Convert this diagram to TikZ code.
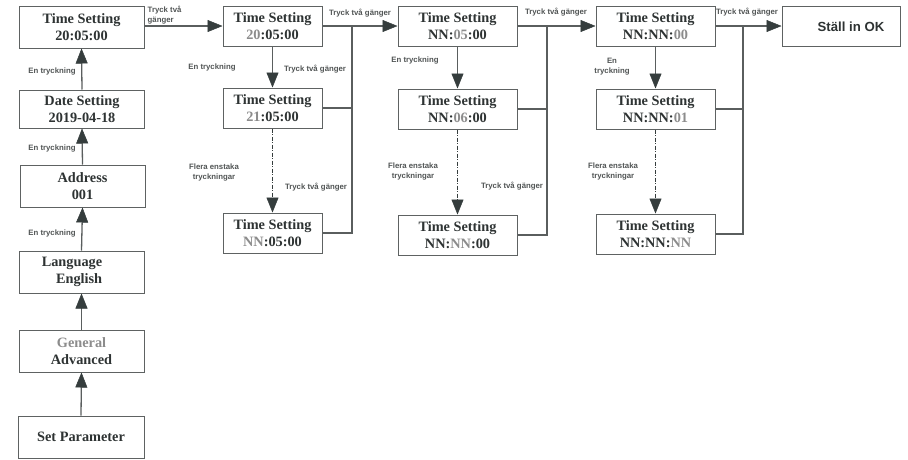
\documentclass[tikz,border=0pt]{standalone}
\usepackage{fontspec}
\setmainfont{Liberation Serif}
\setsansfont{Liberation Sans}
\usetikzlibrary{arrows.meta}
\definecolor{boxline}{HTML}{5E6262}
\definecolor{txt}{HTML}{2E3333}
\definecolor{hl}{HTML}{8C8C8C}
\definecolor{wire}{HTML}{5A5E5E}
\definecolor{tip}{HTML}{353D3D}
\definecolor{lbl}{HTML}{505454}
\newcommand{\hi}[1]{\textcolor{hl}{#1}}
\tikzset{
  headtip/.tip={Triangle[length=15pt,width=12pt,fill=tip,color=tip,line width=0.5pt]}
}
\begin{document}
\begin{tikzpicture}[x=1pt,y=-1pt,
  box/.style={draw=boxline, line width=1pt, fill=white, inner sep=0pt,
    minimum width=125pt, minimum height=40pt, align=center, text=txt,
    font=\fontsize{14.3}{17}\selectfont\bfseries},
  tbox/.style={box, minimum width=119pt},
  boxtext/.style={align=right, text=txt, inner sep=0pt,
    font=\fontsize{14.3}{17}\selectfont\bfseries},
  lab/.style={text=lbl, align=center, inner sep=0pt,
    font=\fontsize{7.8}{10}\selectfont\sffamily\bfseries},
  wire/.style={draw=wire, line width=1.3pt},
  arr/.style={wire, -headtip},
  dd/.style={arr, draw=tip, line width=1.1pt, dash pattern=on 4pt off 1.5pt on 1pt off 1.5pt}]
\useasboundingbox (0,0) rectangle (908,459);

% left column: menu path to the time setting
\node[box, minimum height=42pt] (ts) at (81.5,27) {Time Setting\\20:05:00};
\node[box, minimum height=38pt] (ds) at (82,109) {Date Setting\\2019-04-18};
\node[box, minimum height=42pt] (ad) at (82.5,186) {Address\\001};
\node[box, minimum height=42pt] (la) at (81.5,272) {};
\node[boxtext] (lat) at (72,272) {Language\\English};
\node[box, minimum height=42pt] (ge) at (81.5,351) {\hi{General}\\Advanced};
\node[box, minimum width=126pt, minimum height=42pt] (sp) at (81,437) {Set Parameter};

\draw[arr] (sp.north) -- (ge.south);
\draw[arr] (ge.north) -- (la.south);
\draw[arr] (la.north) -- (ad.south);
\draw[arr] (ad.north) -- (ds.south);
\draw[arr] (ds.north) -- (ts.south);
\node[lab] (l1) at (52,71) {En tryckning};
\node[lab] (l2) at (52,148) {En tryckning};
\node[lab] (l3) at (52,233) {En tryckning};

% hours column
\node[tbox, minimum width=99pt] (h1) at (272.5,26.5) {Time Setting\\\hi{20}:05:00};
\node[tbox, minimum width=99pt] (h2) at (272.5,108) {Time Setting\\\hi{21}:05:00};
\node[tbox, minimum width=99pt] (h3) at (272.5,233) {Time Setting\\\hi{NN}:05:00};

% minutes column
\node[tbox] (m1) at (457.5,26.5) {Time Setting\\NN:\hi{05}:00};
\node[tbox] (m2) at (457.5,109) {Time Setting\\NN:\hi{06}:00};
\node[tbox] (m3) at (457.5,235) {Time Setting\\NN:\hi{NN}:00};

% seconds column
\node[tbox] (s1) at (655.5,26.5) {Time Setting\\NN:NN:\hi{00}};
\node[tbox] (s2) at (655.5,109) {Time Setting\\NN:NN:\hi{01}};
\node[tbox] (s3) at (655.5,234) {Time Setting\\NN:NN:\hi{NN}};

% final state
\node[box, minimum width=118pt, minimum height=40pt,
  font=\fontsize{13.2}{16}\selectfont\sffamily\bfseries] (ok) at (841,26.5)
  {\hspace*{20pt}Ställ in OK};

% junction points of the double-press lines
\coordinate (jh) at (352,26);
\coordinate (jm) at (547,26);
\coordinate (js) at (743,26);

% double press: advance to the next field
\draw[arr] (ts.east |- 0,26) -- (h1.west |- 0,26);
\draw[arr] (h1.east |- 0,26) -- (m1.west |- 0,26);
\draw[arr] (m1.east |- 0,26) -- (s1.west |- 0,26);
\draw[arr] (s1.east |- 0,26) -- (ok.west |- 0,26);
\draw[wire, line width=1.2pt] (h3.east) -| (jh) (h2.east) -- (h2.east -| jh);
\draw[wire, line width=1.2pt] (m3.east) -| (jm) (m2.east) -- (m2.east -| jm);
\draw[wire, line width=1.2pt] (s3.east) -| (js) (s2.east) -- (s2.east -| js);

% single presses inside each column
\draw[arr] (h1.south) -- (h2.north);
\draw[dd] (h2.south) -- (h3.north);
\draw[arr] (m1.south) -- (m2.north);
\draw[dd] (m2.south) -- (m3.north);
\draw[arr] (s1.south) -- (s2.north);
\draw[dd] (s2.south) -- (s3.north);

% labels
\node[lab, align=left, anchor=north west] (t0) at (147.5,5.5) {Tryck två\\gänger};
\node[lab] (t1) at (360,13) {Tryck två gänger};
\node[lab] (t1a) at (315,69) {Tryck två gänger};
\node[lab] (t1b) at (316,187) {Tryck två gänger};
\node[lab] (e1) at (212,67) {En tryckning};
\node[lab] (f1) at (214,172) {Flera enstaka\\tryckningar};

\node[lab] (t2) at (556,12) {Tryck två gänger};
\node[lab] (t2b) at (512,186) {Tryck två gänger};
\node[lab] (e2) at (415,60) {En tryckning};
\node[lab] (f2) at (413,171) {Flera enstaka\\tryckningar};

\node[lab] (t3) at (747,12) {Tryck två gänger};
\node[lab] (e3) at (612,67) {En\\tryckning};
\node[lab] (f3) at (613,171) {Flera enstaka\\tryckningar};
\end{tikzpicture}
\end{document}
